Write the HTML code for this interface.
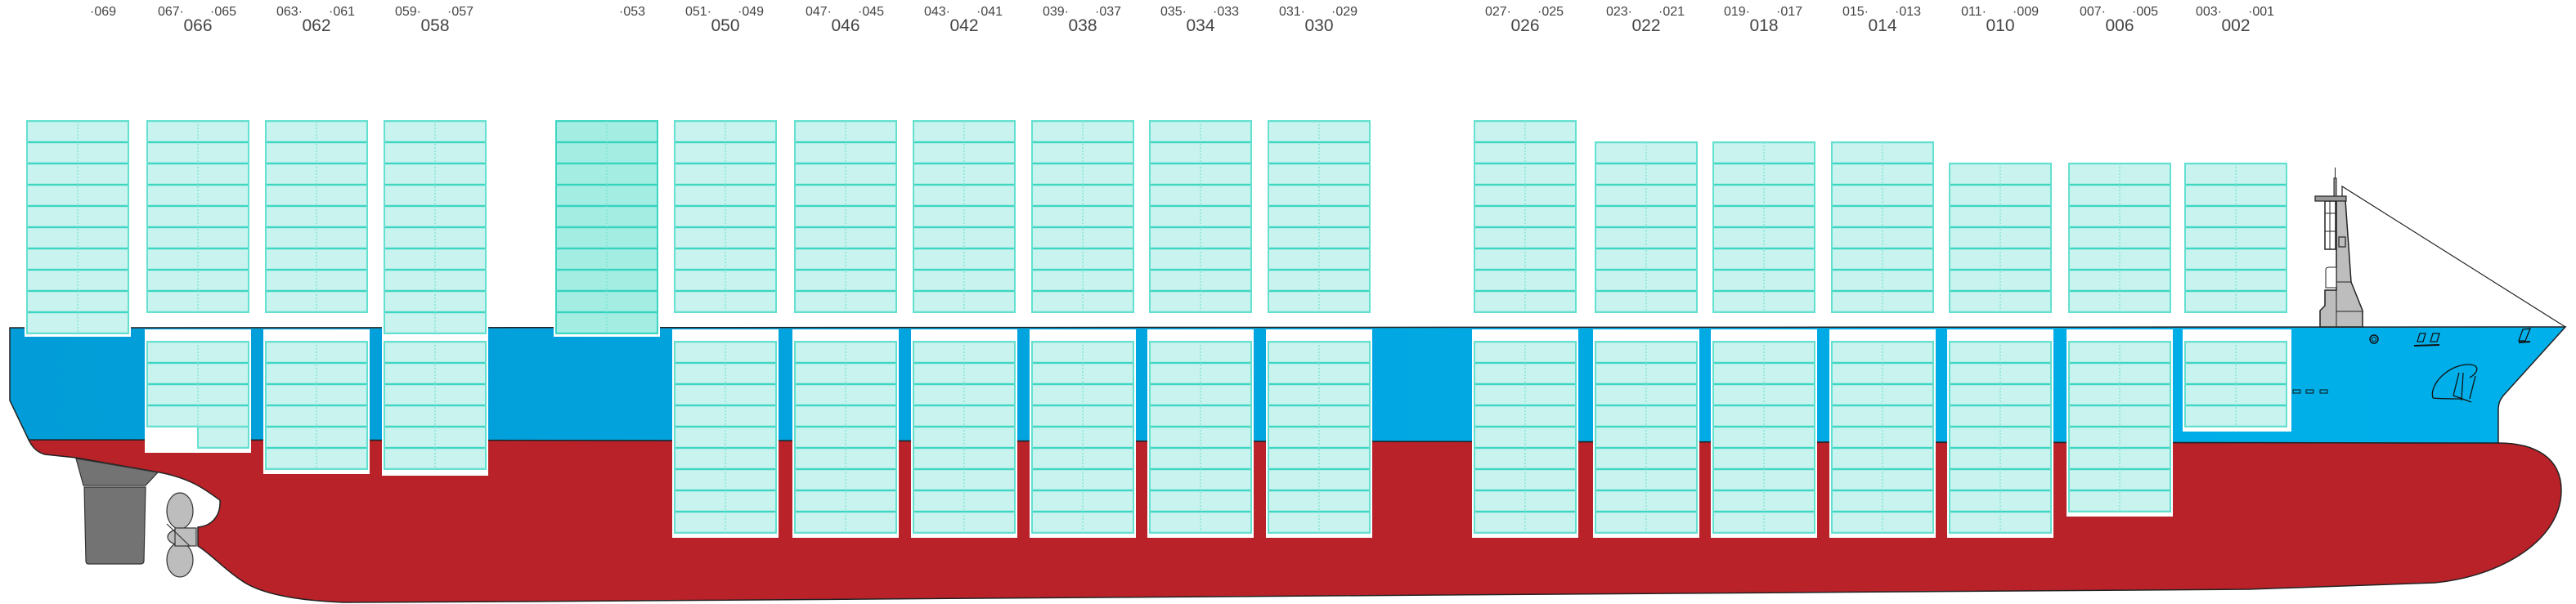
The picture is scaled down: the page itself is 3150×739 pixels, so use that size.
<!DOCTYPE html>
<html><head><meta charset="utf-8"><style>
html,body{margin:0;padding:0;background:#fff;}
svg{display:block;}
text{font-family:"Liberation Sans",sans-serif;fill:#444;}
</style></head><body>
<svg width="3150" height="739" viewBox="0 0 3150 739" xmlns="http://www.w3.org/2000/svg">
<defs>
<linearGradient id="blue" x1="0" x2="1" y1="0" y2="0"><stop offset="0" stop-color="#029dd8"/><stop offset="1" stop-color="#00b0ea"/></linearGradient>
<pattern id="pd" patternUnits="userSpaceOnUse" x="0" y="148" width="3150" height="26"><rect width="3150" height="26" fill="#c9f3ee"/><rect width="3150" height="2.4" y="-1.2" fill="#3dd6c2"/><rect width="3150" height="2.4" y="24.8" fill="#3dd6c2"/></pattern>
<pattern id="pd2" patternUnits="userSpaceOnUse" x="0" y="148" width="3150" height="26"><rect width="3150" height="26" fill="#a3ede2"/><rect width="3150" height="2.4" y="-1.2" fill="#36d3bf"/><rect width="3150" height="2.4" y="24.8" fill="#36d3bf"/></pattern>
<pattern id="ph" patternUnits="userSpaceOnUse" x="0" y="418" width="3150" height="26"><rect width="3150" height="26" fill="#c9f3ee"/><rect width="3150" height="2.4" y="-1.2" fill="#3dd6c2"/><rect width="3150" height="2.4" y="24.8" fill="#3dd6c2"/></pattern>
</defs>

<path d="M35,538 L3055,542 C3100,542 3132,560 3132,600 C3132,660 3060,705 2977,713 L2750,721 L640,736 L420,737 C370,735 320,728 295,710 C275,697 258,678 242,668 L242,645 C262,643 270,628 269,612 C250,598 232,585 195,578 L93,560 L55,556 C44,553 39,546 35,538 Z" fill="#b92229" stroke="#222" stroke-width="1.5"/>
<path d="M12,401 L3137,400 L3062,483 C3056,490 3055,495 3055,502 L3055,542 L35,538 L12,490 Z" fill="url(#blue)" stroke="#222" stroke-width="1.5"/>

<path d="M93,561 L193,578 L178,594 L102,594 Z" fill="#737373" stroke="#333" stroke-width="1.2"/>
<path d="M103,596 L178,596 L176,686 Q176,690 172,690 L108,690 Q105,690 105,686 Z" fill="#737373" stroke="#333" stroke-width="1.2"/>
<ellipse cx="220" cy="625" rx="16" ry="22" fill="#bdbdbd" stroke="#333" stroke-width="1.2"/>
<ellipse cx="220" cy="685" rx="16" ry="21" fill="#bdbdbd" stroke="#333" stroke-width="1.2"/>
<ellipse cx="222" cy="657" rx="17" ry="10" fill="#bdbdbd" stroke="#333" stroke-width="1.2"/>
<rect x="214" y="646" width="26" height="22" fill="#bdbdbd" stroke="#333" stroke-width="1.2"/>
<path d="M204,641 L232,668" stroke="#333" stroke-width="1.2"/>

<path d="M2837,400 L2837,380 L2843,374 L2843,355 L2857,355 L2857,245 L2868,245 L2875,345 L2889,380 L2889,400 Z" fill="#bdbdbd" stroke="#222" stroke-width="1.5"/>
<path d="M2844,352 L2844,330 Q2844,327 2848,327 L2857,327 L2857,352 Z" fill="#fff" stroke="#222" stroke-width="1"/>
<line x1="2857" y1="345" x2="2875" y2="345" stroke="#222" stroke-width="1"/>
<line x1="2857" y1="381" x2="2889" y2="381" stroke="#222" stroke-width="1"/>
<line x1="2857" y1="355" x2="2857" y2="400" stroke="#222" stroke-width="1"/>
<rect x="2843" y="246" width="13" height="59" fill="#fff" stroke="#222" stroke-width="1.5"/>
<line x1="2849" y1="246" x2="2849" y2="305" stroke="#222" stroke-width="1"/>
<line x1="2843" y1="261" x2="2856" y2="261" stroke="#222" stroke-width="1"/>
<line x1="2843" y1="283" x2="2856" y2="283" stroke="#222" stroke-width="1"/>
<rect x="2860" y="290" width="8" height="12" fill="#bdbdbd" stroke="#222" stroke-width="1.2"/>
<rect x="2831" y="240" width="38" height="6" fill="#999" stroke="#222" stroke-width="1.2"/>
<rect x="2854" y="218" width="3" height="22" fill="#999" stroke="#222" stroke-width="1"/>
<line x1="2855.5" y1="205" x2="2855.5" y2="218" stroke="#222" stroke-width="1"/>
<path d="M2864,240 L2864,228 L3137,400" fill="none" stroke="#222" stroke-width="1.2"/>
<circle cx="2903" cy="415" r="5" fill="none" stroke="#111" stroke-width="1.5"/>
<circle cx="2903" cy="415" r="2.5" fill="none" stroke="#111" stroke-width="1"/>
<path d="M2956,418 L2959,408 L2966,408 L2963,418 Z M2972,418 L2975,408 L2983,408 L2980,418 Z" fill="none" stroke="#111" stroke-width="1.3"/>
<line x1="2952" y1="423" x2="2983" y2="422" stroke="#111" stroke-width="2"/>
<path d="M3080,417 L3085,403 L3094,402 L3088,417 Z" fill="none" stroke="#111" stroke-width="1.3"/>
<line x1="3080" y1="419" x2="3094" y2="418" stroke="#111" stroke-width="2"/>
<path d="M2975,487 C2970,470 2995,445 3020,446 C3035,447 3028,458 3020,462 M2975,487 C2985,488 3000,488 3010,488" fill="none" stroke="#111" stroke-width="1.3"/>
<path d="M3007,456 L3000,484 M3012,456 L3010,490 M3027,460 L3020,488 M3000,484 L3022,492" fill="none" stroke="#111" stroke-width="1.3"/>
<rect x="2804" y="477" width="9" height="4" fill="none" stroke="#111" stroke-width="1"/>
<rect x="2820" y="477" width="9" height="4" fill="none" stroke="#111" stroke-width="1"/>
<rect x="2837" y="477" width="9" height="4" fill="none" stroke="#111" stroke-width="1"/>

<g fill="#fff">
<rect x="177" y="403" width="130" height="151"/>
<rect x="322" y="403" width="130" height="177"/>
<rect x="467" y="410" width="130" height="172"/>
<rect x="822" y="403" width="130" height="255"/>
<rect x="969" y="403" width="130" height="255"/>
<rect x="1114" y="403" width="130" height="255"/>
<rect x="1259" y="403" width="130" height="255"/>
<rect x="1403" y="403" width="130" height="255"/>
<rect x="1548" y="403" width="130" height="255"/>
<rect x="1800" y="403" width="130" height="255"/>
<rect x="1948" y="403" width="130" height="255"/>
<rect x="2092" y="403" width="130" height="255"/>
<rect x="2237" y="403" width="130" height="255"/>
<rect x="2381" y="403" width="130" height="255"/>
<rect x="2527" y="403" width="130" height="229"/>
<rect x="2669" y="403" width="133" height="125"/>
<rect x="30" y="146" width="130" height="266"/>
<rect x="467" y="146" width="130" height="266"/>
<rect x="677" y="146" width="130" height="266"/>
</g>

<g fill="url(#ph)" stroke="#63e0cf" stroke-width="2">
<rect x="180" y="418" width="124" height="104"/>
<rect x="242" y="522" width="62" height="26"/>
<rect x="325" y="418" width="124" height="156"/>
<rect x="470" y="418" width="124" height="156"/>
<rect x="825" y="418" width="124" height="234"/>
<rect x="972" y="418" width="124" height="234"/>
<rect x="1117" y="418" width="124" height="234"/>
<rect x="1262" y="418" width="124" height="234"/>
<rect x="1406" y="418" width="124" height="234"/>
<rect x="1551" y="418" width="124" height="234"/>
<rect x="1803" y="418" width="124" height="234"/>
<rect x="1951" y="418" width="124" height="234"/>
<rect x="2095" y="418" width="124" height="234"/>
<rect x="2240" y="418" width="124" height="234"/>
<rect x="2384" y="418" width="124" height="234"/>
<rect x="2530" y="418" width="124" height="208"/>
<rect x="2672" y="418" width="124" height="104"/>
</g>
<g fill="url(#pd)" stroke="#63e0cf" stroke-width="2">
<rect x="33" y="148" width="124" height="260"/>
<rect x="180" y="148" width="124" height="234"/>
<rect x="325" y="148" width="124" height="234"/>
<rect x="470" y="148" width="124" height="260"/>
<rect x="825" y="148" width="124" height="234"/>
<rect x="972" y="148" width="124" height="234"/>
<rect x="1117" y="148" width="124" height="234"/>
<rect x="1262" y="148" width="124" height="234"/>
<rect x="1406" y="148" width="124" height="234"/>
<rect x="1551" y="148" width="124" height="234"/>
<rect x="1803" y="148" width="124" height="234"/>
<rect x="1951" y="174" width="124" height="208"/>
<rect x="2095" y="174" width="124" height="208"/>
<rect x="2240" y="174" width="124" height="208"/>
<rect x="2384" y="200" width="124" height="182"/>
<rect x="2530" y="200" width="124" height="182"/>
<rect x="2672" y="200" width="124" height="182"/>
</g>
<rect x="680" y="148" width="124" height="260" fill="url(#pd2)" stroke="#3dd6c2" stroke-width="2"/>

<g stroke="#7ee3d6" stroke-width="1.3" stroke-dasharray="2,2">
<line x1="95" y1="148" x2="95" y2="408"/>
<line x1="242" y1="148" x2="242" y2="382"/><line x1="242" y1="418" x2="242" y2="548"/>
<line x1="387" y1="148" x2="387" y2="382"/><line x1="387" y1="418" x2="387" y2="574"/>
<line x1="532" y1="148" x2="532" y2="408"/><line x1="532" y1="418" x2="532" y2="574"/>
<line x1="742" y1="148" x2="742" y2="408"/>
<line x1="887" y1="148" x2="887" y2="382"/><line x1="887" y1="418" x2="887" y2="652"/>
<line x1="1034" y1="148" x2="1034" y2="382"/><line x1="1034" y1="418" x2="1034" y2="652"/>
<line x1="1179" y1="148" x2="1179" y2="382"/><line x1="1179" y1="418" x2="1179" y2="652"/>
<line x1="1324" y1="148" x2="1324" y2="382"/><line x1="1324" y1="418" x2="1324" y2="652"/>
<line x1="1468" y1="148" x2="1468" y2="382"/><line x1="1468" y1="418" x2="1468" y2="652"/>
<line x1="1613" y1="148" x2="1613" y2="382"/><line x1="1613" y1="418" x2="1613" y2="652"/>
<line x1="1865" y1="148" x2="1865" y2="382"/><line x1="1865" y1="418" x2="1865" y2="652"/>
<line x1="2013" y1="174" x2="2013" y2="382"/><line x1="2013" y1="418" x2="2013" y2="652"/>
<line x1="2157" y1="174" x2="2157" y2="382"/><line x1="2157" y1="418" x2="2157" y2="652"/>
<line x1="2302" y1="174" x2="2302" y2="382"/><line x1="2302" y1="418" x2="2302" y2="652"/>
<line x1="2446" y1="200" x2="2446" y2="382"/><line x1="2446" y1="418" x2="2446" y2="652"/>
<line x1="2592" y1="200" x2="2592" y2="382"/><line x1="2592" y1="418" x2="2592" y2="626"/>
<line x1="2734" y1="200" x2="2734" y2="382"/><line x1="2734" y1="418" x2="2734" y2="522"/>
</g>

<g font-size="16">
<text x="110" y="19">·069</text>
<text x="225" y="19" text-anchor="end">067·</text><text x="257" y="19">·065</text>
<text x="370" y="19" text-anchor="end">063·</text><text x="402" y="19">·061</text>
<text x="515" y="19" text-anchor="end">059·</text><text x="547" y="19">·057</text>
<text x="757" y="19">·053</text>
<text x="870" y="19" text-anchor="end">051·</text><text x="902" y="19">·049</text>
<text x="1017" y="19" text-anchor="end">047·</text><text x="1049" y="19">·045</text>
<text x="1162" y="19" text-anchor="end">043·</text><text x="1194" y="19">·041</text>
<text x="1307" y="19" text-anchor="end">039·</text><text x="1339" y="19">·037</text>
<text x="1451" y="19" text-anchor="end">035·</text><text x="1483" y="19">·033</text>
<text x="1596" y="19" text-anchor="end">031·</text><text x="1628" y="19">·029</text>
<text x="1848" y="19" text-anchor="end">027·</text><text x="1880" y="19">·025</text>
<text x="1996" y="19" text-anchor="end">023·</text><text x="2028" y="19">·021</text>
<text x="2140" y="19" text-anchor="end">019·</text><text x="2172" y="19">·017</text>
<text x="2285" y="19" text-anchor="end">015·</text><text x="2317" y="19">·013</text>
<text x="2429" y="19" text-anchor="end">011·</text><text x="2461" y="19">·009</text>
<text x="2575" y="19" text-anchor="end">007·</text><text x="2607" y="19">·005</text>
<text x="2717" y="19" text-anchor="end">003·</text><text x="2749" y="19">·001</text>
</g>
<g font-size="21" text-anchor="middle">
<text x="242" y="38">066</text>
<text x="387" y="38">062</text>
<text x="532" y="38">058</text>
<text x="887" y="38">050</text>
<text x="1034" y="38">046</text>
<text x="1179" y="38">042</text>
<text x="1324" y="38">038</text>
<text x="1468" y="38">034</text>
<text x="1613" y="38">030</text>
<text x="1865" y="38">026</text>
<text x="2013" y="38">022</text>
<text x="2157" y="38">018</text>
<text x="2302" y="38">014</text>
<text x="2446" y="38">010</text>
<text x="2592" y="38">006</text>
<text x="2734" y="38">002</text>
</g>
</svg>
</body></html>
